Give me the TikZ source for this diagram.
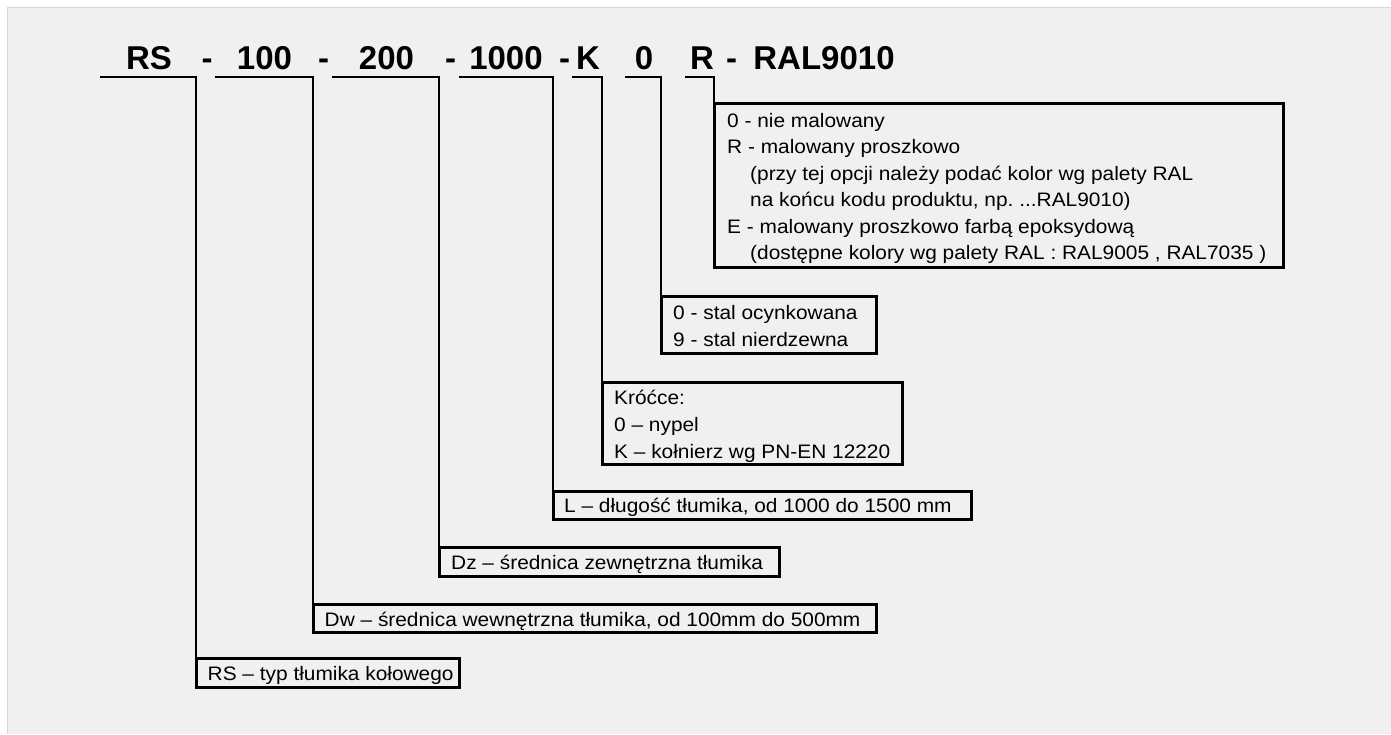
\documentclass[tikz,border=0pt]{standalone}
\usepackage{fontspec}
\setmainfont{Liberation Sans}
\newfontfamily\bodyfont[FakeStretch=1.07]{Liberation Sans}
\usetikzlibrary{calc}
\definecolor{bgcol}{HTML}{F0F0F0}
\definecolor{bordercol}{HTML}{D6D6D6}
\frenchspacing
\tikzset{
  box/.style={draw=black, line width=3pt, anchor=north west, outer sep=0pt, inner sep=0pt, line join=miter},
  conn/.style={draw=black, line width=2.8pt, line join=miter},
  head/.style={anchor=base, inner sep=0pt, font=\fontsize{33}{36}\selectfont\bfseries},
  txt/.style={anchor=base west, inner sep=0pt, font=\bodyfont\fontsize{19.5}{24}\selectfont\frenchspacing}
}
\begin{document}
\begin{tikzpicture}[x=1pt,y=-1pt]
\useasboundingbox (0,0) rectangle (1391,734);
\fill[white] (0,0) rectangle (1391,734);
\fill[bgcol] (7,7) rectangle (1391,734);
\draw[bordercol, line width=1pt] (7.5,734) -- (7.5,7.5) -- (1391,7.5);

% header code
\node[head] (hRS) at (149,69) {RS};
\node[head] (hd1) at (207,69) {-};
\node[head] (h100) at (264.5,69) {100};
\node[head] (hd2) at (323.5,69) {-};
\node[head] (h200) at (386.5,69) {200};
\node[head] (hd3) at (450.5,69) {-};
\node[head] (h1000) at (506,69) {1000};
\node[head] (hd4) at (564.5,69) {-};
\node[head] (hK) at (588,69) {K};
\node[head] (h0) at (644,69) {0};
\node[head] (hR) at (702,69) {R};
\node[head] (hd5) at (731.5,69) {-};
\node[head] (hRAL) at (824,69) {RAL9010};

% boxes
\node[box, minimum width=569, minimum height=164] (rbox) at (714,103) {};
\node[box, minimum width=215, minimum height=57] (sbox) at (661,296) {};
\node[box, minimum width=300, minimum height=82] (kbox) at (602,382) {};
\node[box, minimum width=418, minimum height=28] (lbox) at (553,491) {};
\node[box, minimum width=340, minimum height=29] (dzbox) at (439,547) {};
\node[box, minimum width=563, minimum height=28] (dwbox) at (313,604) {};
\node[box, minimum width=263, minimum height=29] (rsbox) at (196,658) {};

% bracket starts
\coordinate (aRS) at (100,77);
\coordinate (a100) at (215,77);
\coordinate (a200) at (332,77);
\coordinate (a1000) at (459,77);
\coordinate (aK) at (572,77);
\coordinate (a0) at (625,77);
\coordinate (aR) at (685,77);

\draw[conn] (aRS) -| (rsbox.north west);
\draw[conn] (a100) -| (dwbox.north west);
\draw[conn] (a200) -| (dzbox.north west);
\draw[conn] (a1000) -| (lbox.north west);
\draw[conn] (aK) -| (kbox.north west);
\draw[conn] (a0) -| (sbox.north west);
\draw[conn] (aR) -| (rbox.north west);

% texts
\node[txt] (r1) at (727,127) {0 - nie malowany};
\node[txt] (r2) at (727,153.5) {R - malowany proszkowo};
\node[txt] (r3) at (750,180) {(przy tej opcji należy podać kolor wg palety RAL};
\node[txt] (r4) at (750,206.5) {na końcu kodu produktu, np. ...RAL9010)};
\node[txt] (r5) at (727,233) {E - malowany proszkowo farbą epoksydową};
\node[txt] (r6) at (750,259.5) {(dostępne kolory wg palety RAL : RAL9005 , RAL7035 )};

\node[txt] (s1) at (673,319) {0 - stal ocynkowana};
\node[txt] (s2) at (673,346) {9 - stal nierdzewna};

\node[txt] (k1) at (614,404) {Króćce:};
\node[txt] (k2) at (614,431) {0 – nypel};
\node[txt] (k3) at (614,458) {K – kołnierz wg PN-EN 12220};

\node[txt] (l1) at (564,512.5) {L – długość tłumika, od 1000 do 1500 mm};
\node[txt] (dz1) at (451,569) {Dz – średnica zewnętrzna tłumika};
\node[txt] (dw1) at (324.5,626) {Dw – średnica wewnętrzna tłumika, od 100mm do 500mm};
\node[txt] (rs1) at (207.5,680.5) {RS – typ tłumika kołowego};
\end{tikzpicture}
\end{document}
